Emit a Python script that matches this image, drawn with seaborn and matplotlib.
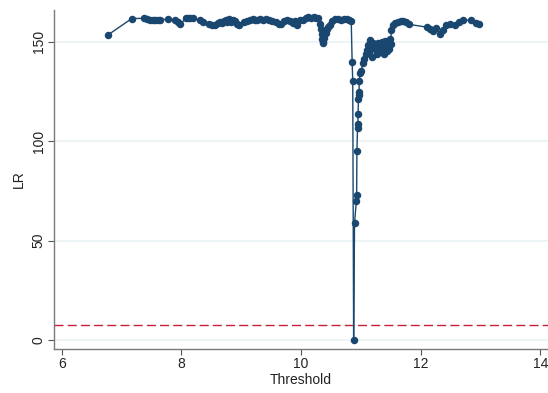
import matplotlib
matplotlib.use("Agg")
import matplotlib.pyplot as plt
import seaborn as sns
import pandas as pd

threshold = [
    6.77, 7.17, 7.37, 7.42, 7.47, 7.52, 7.56, 7.61, 7.65, 7.78, 7.90, 7.94, 7.98,
    8.08, 8.11, 8.15, 8.19, 8.31, 8.36, 8.47, 8.52, 8.57, 8.61, 8.64, 8.68, 8.71,
    8.74, 8.77, 8.80, 8.83, 8.86, 8.90, 8.93, 8.96, 9.05, 9.10, 9.14, 9.19, 9.23,
    9.27, 9.32, 9.37, 9.42, 9.47, 9.52, 9.58, 9.63, 9.66, 9.71, 9.76, 9.81, 9.86,
    9.90, 9.94, 9.98, 10.03, 10.08, 10.12, 10.17, 10.21, 10.25, 10.29, 10.31,
    10.33, 10.345, 10.355, 10.365, 10.375, 10.39, 10.41, 10.43, 10.45, 10.48,
    10.52, 10.57, 10.62, 10.67, 10.72, 10.77, 10.81, 10.84,
    10.855, 10.865, 10.88, 10.895, 10.925, 10.93, 10.935, 10.945, 10.95, 10.955,
    10.96, 10.965, 10.97, 10.975, 10.99, 11.01, 11.03, 11.06, 11.08, 11.10,
    11.12, 11.14, 11.16, 11.17, 11.19, 11.21, 11.23, 11.25, 11.27, 11.29, 11.31,
    11.33, 11.35, 11.37, 11.39, 11.41, 11.43, 11.45, 11.47, 11.49, 11.50, 11.51,
    11.53, 11.57, 11.62, 11.67, 11.71, 11.75, 11.80,
    12.10, 12.16, 12.21, 12.26, 12.32, 12.37, 12.43, 12.49, 12.57, 12.65, 12.71,
    12.85, 12.93, 12.97,
]
lr = [
    153.4, 161.7, 161.8, 161.5, 161.2, 160.9, 160.8, 160.9, 161.2, 161.3, 161.0, 160.0, 158.9,
    161.9, 162.2, 162.1, 161.8, 160.9, 159.8, 158.9, 158.5, 158.7, 159.5, 160.1, 159.3, 160.6,
    161.0, 160.2, 161.4, 159.8, 160.9, 160.4, 159.2, 158.6, 160.1, 160.6, 161.1, 161.4, 160.9,
    161.2, 161.3, 160.9, 161.4, 161.2, 160.7, 160.1, 159.2, 158.8, 160.4, 161.2, 160.4, 159.6,
    160.5, 158.4, 160.8, 161.1, 161.9, 162.3, 161.8, 162.4, 162.2, 161.9, 159.0,
    156.5, 154.0, 151.5, 150.0, 149.3, 152.0, 154.6, 156.3, 157.5, 158.4,
    160.5, 161.4, 161.6, 161.2, 161.3, 161.5, 160.9, 160.6,
    140.0, 130.3, 0.0, 58.8, 69.8, 73.0, 95.0, 106.8, 108.8, 113.8,
    121.4, 123.0, 125.0, 130.4, 134.4, 135.2, 139.4, 141.5, 143.7, 146.0,
    148.4, 144.5, 151.0, 147.0, 142.5, 149.5, 146.2, 148.3, 143.8, 149.2, 147.0,
    145.2, 149.7, 147.3, 143.9, 150.2, 145.6, 148.1, 146.6, 151.2, 149.0, 156.0,
    158.4, 159.4, 160.1, 160.7, 160.6, 159.9, 158.8,
    157.4, 156.6, 155.4, 157.0, 153.8, 155.9, 158.3, 159.0, 158.3, 160.0, 161.0,
    160.8, 159.5, 159.0,
]
critical_value = 7.5
x_ticks = [6, 8, 10, 12, 14]
y_ticks = [0, 50, 100, 150]

df = pd.DataFrame({"Threshold": threshold, "LR": lr})

sns.set_theme(style="white")
plt.rcParams["font.family"] = ["Liberation Sans", "DejaVu Sans"]

fig = plt.figure(figsize=(5.48, 3.93), dpi=100)
# axes: left spine at x~54px, bottom spine at y~349px, top at y~10px
ax = fig.add_axes([54 / 548, 1 - 349 / 393, 1 - 54 / 548, (349 - 10) / 393])

for yv in y_ticks:
    ax.axhline(yv, color="#eaf2f3", lw=1.2, zorder=0)

ax.axhline(critical_value, color="#c8203c", lw=1.0, ls=(0, (6.5, 3)), zorder=1)

sns.lineplot(data=df, x="Threshold", y="LR", ax=ax, sort=False, estimator=None,
             color="#1a476f", linewidth=1.0, marker="o", markersize=5.4,
             markeredgewidth=0, zorder=3)

ax.set_xlim(5.87, 14.13)
ax.set_ylim(-4.5, 166)
ax.set_xticks(x_ticks)
ax.set_yticks(y_ticks)
ax.set_yticklabels([str(v) for v in y_ticks], rotation=90, va="center")
ax.set_xlabel("Threshold", fontsize=10, color="#222222", labelpad=1)
ax.set_ylabel("LR", fontsize=10, color="#222222", labelpad=4)
ax.tick_params(axis="both", which="major", direction="out", length=4, width=0.8,
               color="#555555", labelsize=10, labelcolor="#222222", pad=2,
               bottom=True, left=True)

for s in ["top", "right"]:
    ax.spines[s].set_visible(False)
for s in ["left", "bottom"]:
    ax.spines[s].set_color("#7a7a7a")
    ax.spines[s].set_linewidth(1.0)

fig.savefig("out.png", dpi=100)
